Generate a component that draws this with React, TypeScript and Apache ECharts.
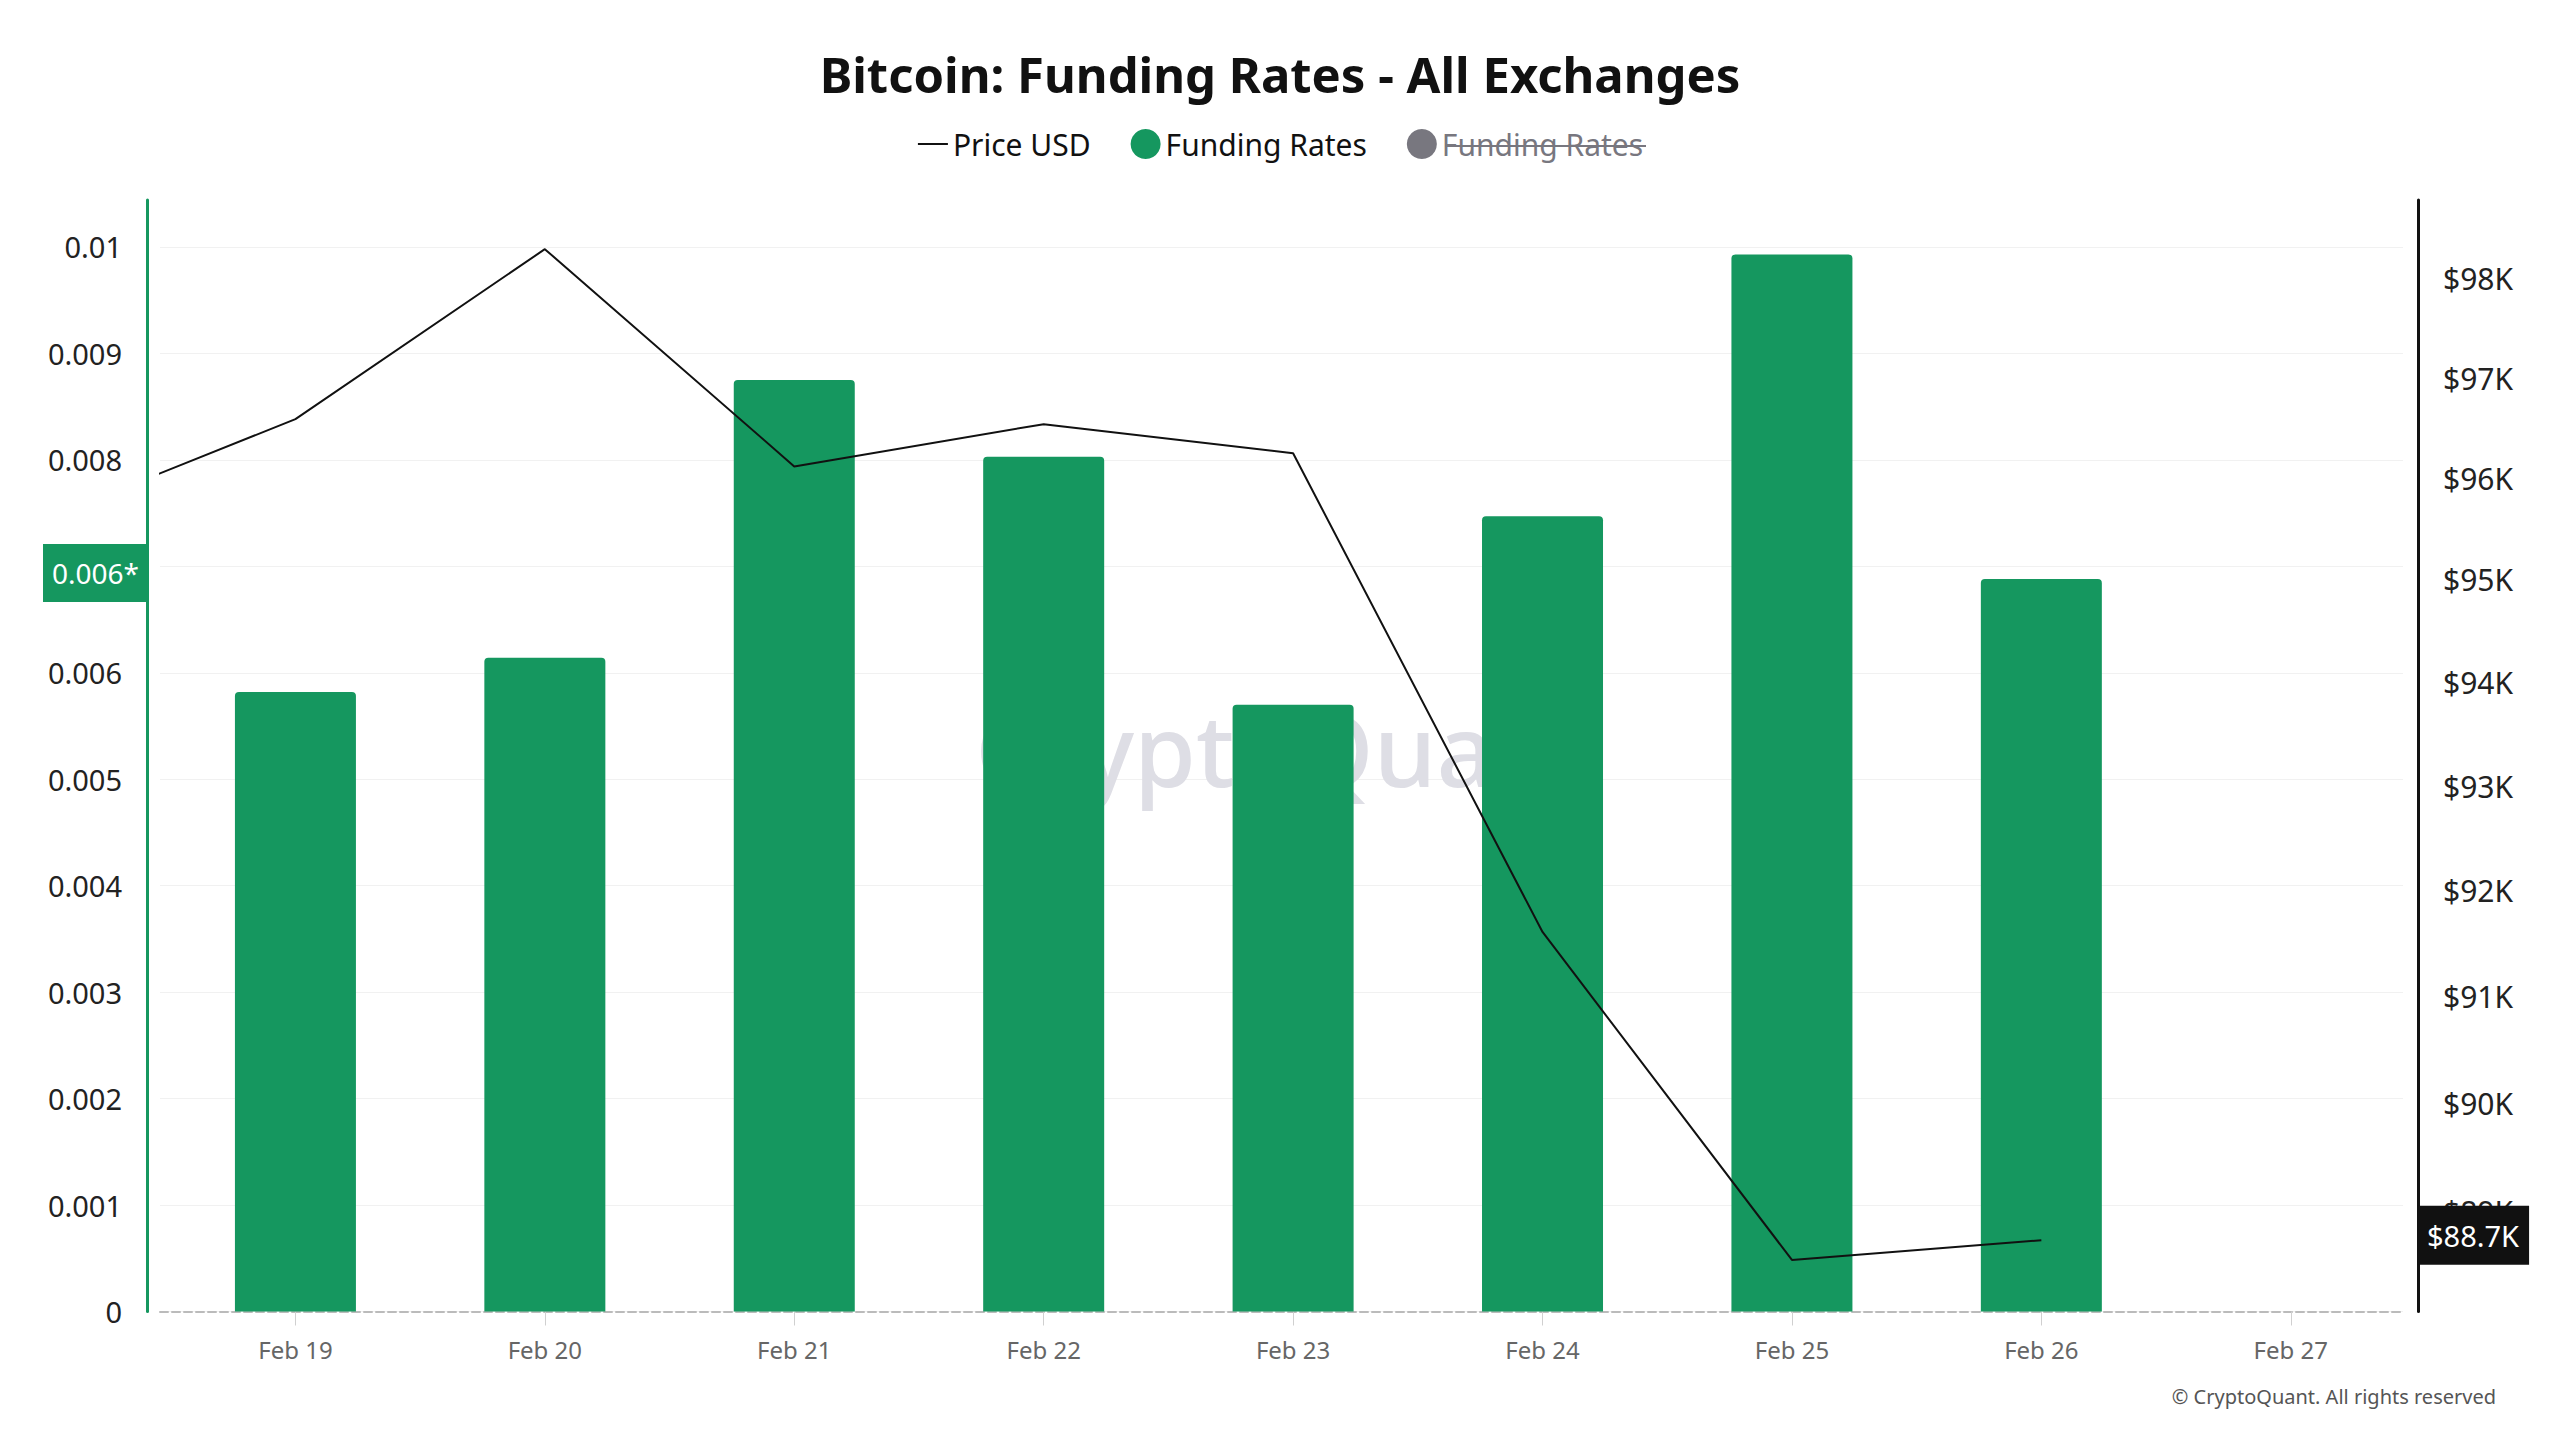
import React, { useEffect, useRef } from 'react';
import * as echarts from 'echarts';

// ---- data ----
const xDays = [19, 20, 21, 22, 23, 24, 25, 26, 27];
const xTickLabels = ['Feb 19', 'Feb 20', 'Feb 21', 'Feb 22', 'Feb 23', 'Feb 24', 'Feb 25', 'Feb 26', 'Feb 27'];

const fundingDays = [19, 20, 21, 22, 23, 24, 25, 26];
const fundingRates = [0.00582, 0.00614, 0.00875, 0.00803, 0.0057, 0.00747, 0.00993, 0.00688];
const fundingTicks = [0, 0.001, 0.002, 0.003, 0.004, 0.005, 0.006, 0.007, 0.008, 0.009, 0.01];

const priceDays = [18, 19, 20, 21, 22, 23, 24, 25, 26];
const priceUSD = [95600, 96590, 98300, 96120, 96540, 96250, 91610, 88560, 88740];

const priceTicks = [89000, 90000, 91000, 92000, 93000, 94000, 95000, 96000, 97000, 98000];

const fundingAxisMax = 0.010441;
const priceAxisMin = 88090;
const priceAxisMax = 98800;
const xMin = 18.457;
const xMax = 27.45;

const GREEN = '#15975f';
const FONT = "'Noto Sans', 'DejaVu Sans', sans-serif";

export default function App() {
  const ref = useRef<HTMLDivElement>(null);

  useEffect(() => {
    if (!ref.current) return;
    const chart = echarts.init(ref.current, undefined, { renderer: 'svg' });
    const lg = (v: number) => Math.log10(v);
    const lastFunding = fundingRates[fundingRates.length - 1];
    const lastPrice = priceUSD[priceUSD.length - 1];

    const baseGraphics: any[] = [
      {
        id: 'watermark',
        type: 'text',
        x: 1285,
        y: 748,
        z: 1,
        silent: true,
        style: {
          text: 'CryptoQuant',
          fill: '#dedee5',
          fontSize: 100,
          fontWeight: 500,
          fontFamily: FONT,
          align: 'center',
          verticalAlign: 'middle',
        },
      },
      {
        id: 'copyright',
        type: 'text',
        x: 2496,
        y: 1396,
        silent: true,
        style: {
          text: '© CryptoQuant. All rights reserved',
          fill: '#555',
          fontSize: 20,
          fontFamily: FONT,
          align: 'right',
          verticalAlign: 'middle',
        },
      },
      {
        id: 'strike',
        type: 'line',
        z: 100,
        silent: true,
        shape: { x1: 1445, y1: 146, x2: 1646, y2: 146 },
        style: { stroke: '#78777f', lineWidth: 2 },
      },
    ];

    const option: any = {
      animation: false,
      backgroundColor: '#ffffff',
      textStyle: { fontFamily: FONT },
      title: {
        text: 'Bitcoin: Funding Rates - All Exchanges',
        left: 'center',
        top: 44,
        textStyle: { fontSize: 49, fontWeight: 'bold', color: '#111', fontFamily: FONT },
      },
      legend: {
        left: 'center',
        top: 124,
        itemWidth: 30,
        itemHeight: 30,
        itemGap: 40,
        inactiveColor: '#78777f',
        textStyle: { fontSize: 30, color: '#111', fontFamily: FONT },
        formatter: (n: string) => n.trim(),
        selected: { 'Funding Rates ': false },
        data: [
          { name: 'Price USD', itemStyle: { opacity: 0 } },
          { name: 'Funding Rates', icon: 'circle' },
          { name: 'Funding Rates ', icon: 'circle' },
        ],
      },
      grid: { left: 160, right: 157, top: 200, bottom: 128.5 },
      xAxis: {
        type: 'value',
        min: xMin,
        max: xMax,
        axisLine: { show: true, onZero: false, lineStyle: { color: '#bbbbbb', type: 'dashed', width: 2 } },
        axisTick: { show: true, customValues: xDays, length: 14, lineStyle: { color: '#d0d0d0' } },
        axisLabel: {
          customValues: xDays,
          formatter: (v: number) => xTickLabels[xDays.indexOf(Math.round(v))] || '',
          margin: 26,
          fontSize: 24,
          color: '#666',
          fontFamily: FONT,
        },
        splitLine: { show: false },
      },
      yAxis: [
        {
          type: 'value',
          position: 'left',
          min: 0,
          max: fundingAxisMax,
          interval: 0.001,
          offset: 13,
          axisLine: { show: true, lineStyle: { color: GREEN, width: 3 } },
          axisTick: { show: false },
          axisLabel: {
            customValues: fundingTicks,
            margin: 25,
            fontSize: 29,
            color: '#222',
            fontFamily: FONT,
            formatter: (v: number) => (v === 0 ? '0' : String(+v.toFixed(3))),
          },
          splitLine: { show: true, showMaxLine: false, lineStyle: { color: '#f1f1f1', width: 1 } },
        },
        {
          type: 'value',
          position: 'right',
          min: lg(priceAxisMin),
          max: lg(priceAxisMax),
          offset: 15,
          axisLine: { show: true, lineStyle: { color: '#111', width: 3 } },
          axisTick: { show: false },
          axisLabel: {
            customValues: priceTicks.map(lg),
            margin: 25,
            fontSize: 30,
            color: '#222',
            fontFamily: FONT,
            formatter: (v: number) => '$' + Math.round(Math.pow(10, v) / 1000) + 'K',
          },
          splitLine: { show: false },
        },
      ],
      graphic: baseGraphics,
      series: [
        {
          name: 'Funding Rates',
          type: 'bar',
          yAxisIndex: 0,
          barWidth: 121,
          itemStyle: { color: GREEN, borderRadius: [4, 4, 0, 0] },
          data: fundingDays.map((d, i) => [d, fundingRates[i]]),
        },
        {
          name: 'Funding Rates ',
          type: 'line',
          data: [],
          itemStyle: { color: '#78777f' },
        },
        {
          name: 'Price USD',
          type: 'line',
          yAxisIndex: 1,
          symbol: 'none',
          clip: true,
          z: 5,
          itemStyle: { color: '#111' },
          lineStyle: { color: '#111', width: 2 },
          data: priceDays.map((d, i) => [d, lg(priceUSD[i])]),
        },
      ],
    };

    chart.setOption(option);

    // current-value badges on both axes, positioned through the axes' own scales
    const yFunding = chart.convertToPixel({ yAxisIndex: 0 }, lastFunding) as number;
    const yPrice = chart.convertToPixel({ yAxisIndex: 1 }, lg(lastPrice)) as number;
    chart.setOption({
      graphic: [
        ...baseGraphics,
        {
          id: 'fundingBadge',
          type: 'text',
          x: 147,
          y: yFunding - 6,
          z: 50,
          silent: true,
          style: {
            text: (Math.floor(lastFunding * 1000) / 1000).toFixed(3) + '*',
            fill: '#fff',
            fontSize: 28,
            fontFamily: FONT,
            backgroundColor: GREEN,
            padding: [15, 8, 15, 9],
            align: 'right',
            verticalAlign: 'middle',
          },
        },
        {
          id: 'priceBadge',
          type: 'text',
          x: 2417,
          y: yPrice - 5,
          z: 50,
          silent: true,
          style: {
            text: '$' + (lastPrice / 1000).toFixed(1) + 'K',
            fill: '#fff',
            fontSize: 29,
            fontFamily: FONT,
            backgroundColor: '#111',
            padding: [15, 10, 15, 10],
            align: 'left',
            verticalAlign: 'middle',
          },
        },
      ],
    });

    return () => chart.dispose();
  }, []);

  return (
    <div
      ref={ref}
      style={{ position: 'fixed', left: 0, top: 0, width: 2560, height: 1440, background: '#fff' }}
    />
  );
}
